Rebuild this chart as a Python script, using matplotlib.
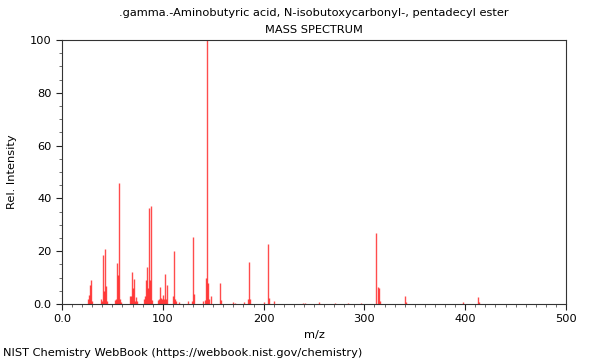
import matplotlib
matplotlib.use("Agg")
import matplotlib.pyplot as plt
from matplotlib.ticker import MultipleLocator

# Spectrum (m/z, relative intensity)
mz = [26, 27, 28, 29, 30, 39, 40, 41, 42, 43, 44, 45,
      53, 54, 55, 56, 57, 58, 59, 67, 68, 69, 70, 71, 72, 73, 74,
      81, 82, 83, 84, 85, 86, 87, 88, 89, 95, 96, 97, 98, 99, 100,
      101, 102, 103, 104, 110, 111, 112, 113, 116, 125, 129, 130, 131,
      140, 142, 143, 144, 145, 146, 148, 157, 158, 170, 172, 181,
      185, 186, 187, 200, 204, 205, 210, 239, 241, 255, 271, 284, 297,
      312, 313, 314, 315, 340, 341, 398, 413, 414]
intensity = [2, 3.5, 7.2, 9, 1, 2, 1, 18.6, 5, 21, 7, 1,
             1.5, 2, 15.5, 11, 46, 2, 0.7, 3, 3, 12, 6, 9.4, 1, 2.6, 1,
             2, 3, 9, 14, 6, 36.2, 9, 37, 1.5, 1.5, 2, 6.6, 2.3, 2, 3.4,
             2, 11.4, 2, 7.2, 3, 20, 2, 1, 0.7, 1, 1, 25.5, 3.8,
             1, 1.5, 9.7, 100, 8, 2, 3, 7.8, 1.5, 0.7, 0.5, 0.7,
             2, 16, 2, 0.7, 22.7, 2.2, 1, 0.4, 0.4, 0.7, 0.5, 0.4, 0.4,
             27, 6.6, 6, 1, 3, 0.7, 0.6, 2.8, 0.7]

x_ticks = [0, 100, 200, 300, 400, 500]
x_labels = ["0.0", "100", "200", "300", "400", "500"]
y_ticks = [0, 20, 40, 60, 80, 100]
y_labels = ["0.0", "20", "40", "60", "80", "100"]

fig = plt.figure(figsize=(6, 3.6), dpi=100)
ax = fig.add_axes([62 / 600, 1 - 304 / 360, 504 / 600, 264 / 360])

ax.vlines(mz, 0, intensity, colors="red", linewidth=1.0, alpha=0.7)

ax.set_xlim(0, 500)
ax.set_ylim(0, 100)
ax.set_xticks(x_ticks)
ax.set_xticklabels(x_labels)
ax.set_yticks(y_ticks)
ax.set_yticklabels(y_labels)
ax.xaxis.set_minor_locator(MultipleLocator(10))
ax.yaxis.set_minor_locator(MultipleLocator(5))
ax.tick_params(which="major", length=4, width=0.8, labelsize=8.2, color="#222222")
ax.tick_params(which="minor", length=2, width=0.6, color="#555555")
for s in ax.spines.values():
    s.set_color("#333333")
    s.set_linewidth(0.8)

ax.set_xlabel("m/z", fontsize=8.2)
ax.set_ylabel("Rel. Intensity", fontsize=8.2)
ax.yaxis.set_label_coords(-0.089, 0.5)

fig.text(314 / 600, 1 - 13 / 360, ".gamma.-Aminobutyric acid, N-isobutoxycarbonyl-, pentadecyl ester",
         ha="center", va="center", fontsize=8.2)
fig.text(314 / 600, 1 - 30 / 360, "MASS SPECTRUM", ha="center", va="center", fontsize=8.2)
fig.text(3 / 600, 1 - 353 / 360, "NIST Chemistry WebBook (https://webbook.nist.gov/chemistry)",
         ha="left", va="center", fontsize=8.2)

fig.savefig("out.png", dpi=100)
